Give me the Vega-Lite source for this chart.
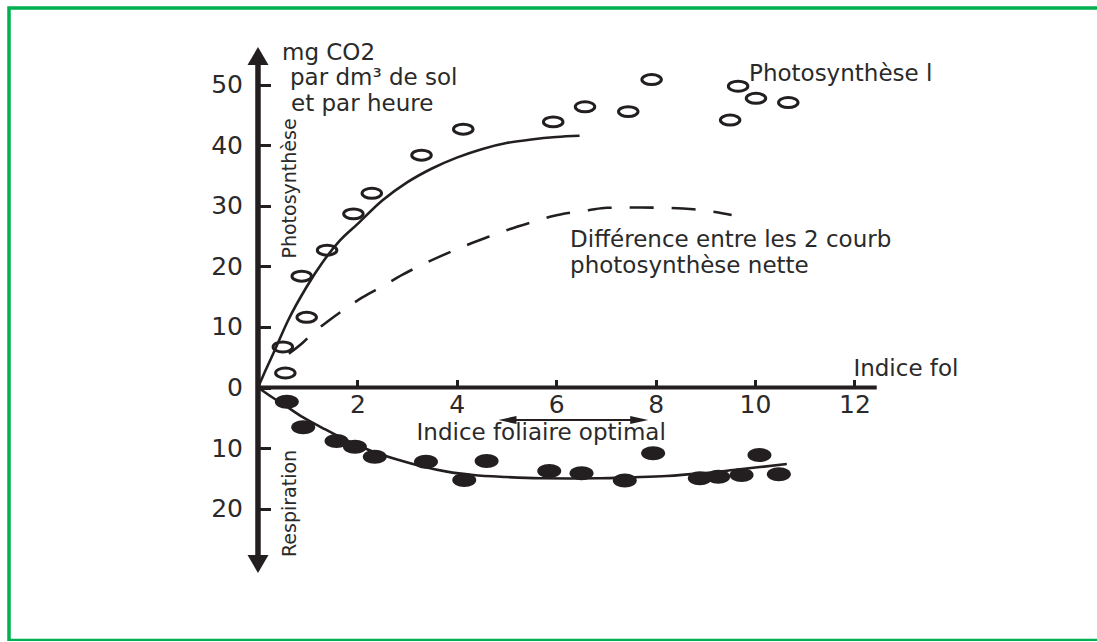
{
  "$schema": "https://vega.github.io/schema/vega-lite/v6.json",
  "width": 1100,
  "height": 632.5,
  "autosize": {"type": "none"},
  "padding": {"left": 9, "top": 8, "right": -12, "bottom": 0},
  "background": "white",
  "config": {
    "view": {"stroke": "#00b050", "strokeWidth": 3.5},
    "font": "DejaVu Sans"
  },
  "datasets": {
    "axes": [
      {"axe": "vertical", "x": 0, "x2": 0, "y": -28.5, "y2": 54.2},
      {"axe": "horizontal", "x": 0, "x2": 12.45, "y": 0, "y2": 0}
    ],
    "pointes": [
      {"sens": "haut", "x": 0, "y": 54.8},
      {"sens": "bas", "x": 0, "y": -29.17}
    ],
    "brute": [
      {"x": 0.55, "y": 2.4}, {"x": 0.5, "y": 6.7}, {"x": 0.98, "y": 11.6},
      {"x": 0.88, "y": 18.4}, {"x": 1.39, "y": 22.7}, {"x": 1.92, "y": 28.7},
      {"x": 2.29, "y": 32.1}, {"x": 3.29, "y": 38.4}, {"x": 4.13, "y": 42.7},
      {"x": 5.94, "y": 43.9}, {"x": 6.58, "y": 46.4}, {"x": 7.45, "y": 45.6},
      {"x": 7.92, "y": 50.9}, {"x": 9.5, "y": 44.2}, {"x": 9.66, "y": 49.8},
      {"x": 10.02, "y": 47.8}, {"x": 10.67, "y": 47.1}
    ],
    "respiration": [
      {"x": 0.58, "y": -2.35}, {"x": 0.91, "y": -6.58}, {"x": 1.58, "y": -8.84},
      {"x": 1.95, "y": -9.79}, {"x": 2.35, "y": -11.44}, {"x": 3.38, "y": -12.26},
      {"x": 4.15, "y": -15.29}, {"x": 4.6, "y": -12.15}, {"x": 5.86, "y": -13.8},
      {"x": 6.51, "y": -14.18}, {"x": 7.38, "y": -15.37}, {"x": 7.95, "y": -10.88},
      {"x": 8.89, "y": -15.0}, {"x": 9.26, "y": -14.74}, {"x": 9.73, "y": -14.46},
      {"x": 10.09, "y": -11.16}, {"x": 10.48, "y": -14.35}
    ],
    "courbes": [
      {"courbe": "brute", "x": 0, "y": 0}, {"courbe": "brute", "x": 0.15, "y": 2.8},
      {"courbe": "brute", "x": 0.31, "y": 5.65}, {"courbe": "brute", "x": 0.6, "y": 11.0},
      {"courbe": "brute", "x": 0.98, "y": 16.66}, {"courbe": "brute", "x": 1.3, "y": 20.7},
      {"courbe": "brute", "x": 1.65, "y": 24.3}, {"courbe": "brute", "x": 2.0, "y": 27.0},
      {"courbe": "brute", "x": 2.5, "y": 30.9}, {"courbe": "brute", "x": 3.0, "y": 33.9},
      {"courbe": "brute", "x": 3.5, "y": 36.2}, {"courbe": "brute", "x": 4.0, "y": 38.0},
      {"courbe": "brute", "x": 4.5, "y": 39.4}, {"courbe": "brute", "x": 5.0, "y": 40.4},
      {"courbe": "brute", "x": 5.5, "y": 41.0}, {"courbe": "brute", "x": 6.0, "y": 41.4},
      {"courbe": "brute", "x": 6.47, "y": 41.6},
      {"courbe": "nette", "x": 0.62, "y": 5.6}, {"courbe": "nette", "x": 0.9, "y": 7.4},
      {"courbe": "nette", "x": 1.1, "y": 9.0}, {"courbe": "nette", "x": 1.4, "y": 10.9},
      {"courbe": "nette", "x": 1.77, "y": 13.1}, {"courbe": "nette", "x": 2.1, "y": 14.9},
      {"courbe": "nette", "x": 2.52, "y": 16.8}, {"courbe": "nette", "x": 2.9, "y": 18.6},
      {"courbe": "nette", "x": 3.29, "y": 20.25}, {"courbe": "nette", "x": 3.7, "y": 21.8},
      {"courbe": "nette", "x": 4.13, "y": 23.3}, {"courbe": "nette", "x": 4.6, "y": 24.8},
      {"courbe": "nette", "x": 5.0, "y": 26.0}, {"courbe": "nette", "x": 5.5, "y": 27.3},
      {"courbe": "nette", "x": 5.94, "y": 28.35}, {"courbe": "nette", "x": 6.3, "y": 28.9},
      {"courbe": "nette", "x": 6.65, "y": 29.3}, {"courbe": "nette", "x": 7.02, "y": 29.7},
      {"courbe": "nette", "x": 7.69, "y": 29.75}, {"courbe": "nette", "x": 8.2, "y": 29.7},
      {"courbe": "nette", "x": 8.76, "y": 29.45}, {"courbe": "nette", "x": 9.2, "y": 29.0},
      {"courbe": "nette", "x": 9.53, "y": 28.5},
      {"courbe": "respiration", "x": 0, "y": 0}, {"courbe": "respiration", "x": 0.3, "y": -1.7},
      {"courbe": "respiration", "x": 0.58, "y": -3.17}, {"courbe": "respiration", "x": 0.9, "y": -4.9},
      {"courbe": "respiration", "x": 1.31, "y": -6.74}, {"courbe": "respiration", "x": 1.8, "y": -8.8},
      {"courbe": "respiration", "x": 2.32, "y": -10.61}, {"courbe": "respiration", "x": 2.8, "y": -11.9},
      {"courbe": "respiration", "x": 3.33, "y": -13.09}, {"courbe": "respiration", "x": 3.8, "y": -13.9},
      {"courbe": "respiration", "x": 4.33, "y": -14.46}, {"courbe": "respiration", "x": 5.0, "y": -14.8},
      {"courbe": "respiration", "x": 5.67, "y": -15.01}, {"courbe": "respiration", "x": 6.3, "y": -15.05},
      {"courbe": "respiration", "x": 6.88, "y": -15.01}, {"courbe": "respiration", "x": 7.5, "y": -14.85},
      {"courbe": "respiration", "x": 8.22, "y": -14.63}, {"courbe": "respiration", "x": 8.9, "y": -14.2},
      {"courbe": "respiration", "x": 9.56, "y": -13.64}, {"courbe": "respiration", "x": 10.1, "y": -13.15},
      {"courbe": "respiration", "x": 10.64, "y": -12.64}
    ],
    "optimal_trait": [
      {"x": 4.95, "x2": 7.75, "y": -5.37}
    ],
    "optimal_pointes": [
      {"pointe": "gauche", "x": 5.02, "y": -5.37},
      {"pointe": "droite", "x": 7.67, "y": -5.37}
    ],
    "textes": [
      {"texte": "mg CO2", "x": 0.483, "y": 54.2},
      {"texte": "par dm³ de sol", "x": 0.644, "y": 50.0},
      {"texte": "et par heure", "x": 0.664, "y": 45.7},
      {"texte": "Photosynthèse l", "x": 9.88, "y": 50.66},
      {"texte": "Différence entre les 2 courb", "x": 6.28, "y": 23.2},
      {"texte": "photosynthèse nette", "x": 6.28, "y": 19.0},
      {"texte": "Indice fol", "x": 11.98, "y": 1.9},
      {"texte": "Indice foliaire optimal", "x": 3.19, "y": -8.68}
    ],
    "titres_axe": [
      {"texte": "Photosynthèse", "x": 0.765, "y": 32.9},
      {"texte": "Respiration", "x": 0.765, "y": -19.17}
    ]
  },
  "encoding": {
    "x": {
      "field": "x",
      "type": "quantitative",
      "scale": {"domain": [-5.01, 17.123], "nice": false, "zero": false},
      "axis": {
        "orient": "bottom",
        "offset": -253,
        "values": [2, 4, 6, 8, 10, 12],
        "domain": false,
        "grid": false,
        "title": null,
        "tickSize": -8,
        "tickWidth": 3,
        "tickColor": "#231f20",
        "labelPadding": 13,
        "labelFlush": false,
        "labelOverlap": false,
        "labelFont": "DejaVu Sans",
        "labelFontSize": 25,
        "labelColor": "#2a2a2a"
      }
    },
    "y": {
      "field": "y",
      "type": "quantitative",
      "scale": {"domain": [-41.818, 62.727], "nice": false, "zero": false},
      "axis": {
        "orient": "left",
        "offset": -249,
        "values": [-20, -10, 0, 10, 20, 30, 40, 50],
        "labelExpr": "'' + abs(datum.value)",
        "domain": false,
        "grid": false,
        "title": null,
        "tickSize": -12.5,
        "tickWidth": 3,
        "tickColor": "#231f20",
        "labelPadding": 28,
        "labelFlush": false,
        "labelOverlap": false,
        "labelFont": "DejaVu Sans",
        "labelFontSize": 25,
        "labelColor": "#2a2a2a"
      }
    }
  },
  "layer": [
    {
      "data": {"name": "axes"},
      "transform": [{"filter": "datum.axe === 'vertical'"}],
      "mark": {"type": "rule", "color": "#231f20", "strokeWidth": 5.5},
      "encoding": {"x2": {"field": "x2"}, "y2": {"field": "y2"}}
    },
    {
      "data": {"name": "axes"},
      "transform": [{"filter": "datum.axe === 'horizontal'"}],
      "mark": {"type": "rule", "color": "#231f20", "strokeWidth": 4},
      "encoding": {"x2": {"field": "x2"}, "y2": {"field": "y2"}}
    },
    {
      "data": {"name": "pointes"},
      "transform": [{"filter": "datum.sens === 'haut'"}],
      "mark": {"type": "point", "shape": "M 0 -0.857 L 1 0.857 L -1 0.857 Z", "size": 441, "filled": true, "color": "#231f20", "opacity": 1, "strokeWidth": 0}
    },
    {
      "data": {"name": "pointes"},
      "transform": [{"filter": "datum.sens === 'bas'"}],
      "mark": {"type": "point", "shape": "M 0 0.857 L 1 -0.857 L -1 -0.857 Z", "size": 441, "filled": true, "color": "#231f20", "opacity": 1, "strokeWidth": 0}
    },
    {
      "data": {"name": "courbes"},
      "transform": [{"filter": "datum.courbe !== 'nette'"}],
      "mark": {"type": "line", "color": "#231f20", "strokeWidth": 2.6, "interpolate": "monotone"},
      "encoding": {"detail": {"field": "courbe"}}
    },
    {
      "data": {"name": "courbes"},
      "transform": [{"filter": "datum.courbe === 'nette'"}],
      "mark": {"type": "line", "color": "#231f20", "strokeWidth": 2.6, "interpolate": "monotone", "strokeDash": [24, 18]}
    },
    {
      "data": {"name": "brute"},
      "mark": {"type": "point", "shape": "M -1 0 A 1 0.51 0 1 1 1 0 A 1 0.51 0 1 1 -1 0 Z", "size": 380, "filled": false, "stroke": "#231f20", "strokeWidth": 3, "opacity": 1}
    },
    {
      "data": {"name": "respiration"},
      "mark": {"type": "point", "shape": "M -1 0 A 1 0.58 0 1 1 1 0 A 1 0.58 0 1 1 -1 0 Z", "size": 576, "filled": true, "color": "#231f20", "opacity": 1, "strokeWidth": 0}
    },
    {
      "data": {"name": "optimal_trait"},
      "mark": {"type": "rule", "color": "#231f20", "strokeWidth": 2},
      "encoding": {"x2": {"field": "x2"}}
    },
    {
      "data": {"name": "optimal_pointes"},
      "transform": [{"filter": "datum.pointe === 'gauche'"}],
      "mark": {"type": "point", "shape": "M -1 0 L 1 -0.45 L 1 0.45 Z", "size": 324, "filled": true, "color": "#231f20", "opacity": 1, "strokeWidth": 0}
    },
    {
      "data": {"name": "optimal_pointes"},
      "transform": [{"filter": "datum.pointe === 'droite'"}],
      "mark": {"type": "point", "shape": "M 1 0 L -1 -0.45 L -1 0.45 Z", "size": 324, "filled": true, "color": "#231f20", "opacity": 1, "strokeWidth": 0}
    },
    {
      "data": {"name": "textes"},
      "mark": {"type": "text", "align": "left", "baseline": "alphabetic", "font": "DejaVu Sans", "fontSize": 23, "color": "#2a2a2a"},
      "encoding": {"text": {"field": "texte"}}
    },
    {
      "data": {"name": "titres_axe"},
      "mark": {"type": "text", "align": "center", "baseline": "alphabetic", "angle": 270, "font": "DejaVu Sans", "fontSize": 19, "color": "#2a2a2a"},
      "encoding": {"text": {"field": "texte"}}
    }
  ]
}
